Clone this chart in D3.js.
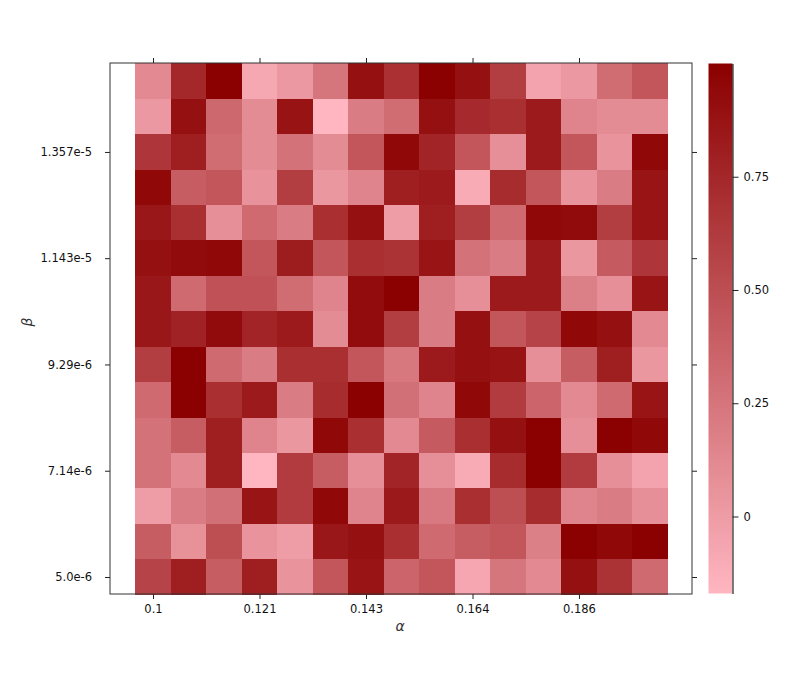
<!DOCTYPE html>
<html>
<head>
<meta charset="utf-8">
<script src="https://cdn.jsdelivr.net/npm/d3@7"></script>
<style>
  html, body { margin: 0; padding: 0; background: #fff; }
  svg { display: block; }
  text { font-family: "DejaVu Sans", sans-serif; }
</style>
</head>
<body>
<svg id="chart" width="800" height="700"></svg>
<script>
// ---- data ----
const alphaValues = [0.1, 0.10714, 0.11429, 0.12143, 0.12857, 0.13571, 0.14286, 0.15,
                     0.15714, 0.16429, 0.17143, 0.17857, 0.18571, 0.19286, 0.2];
const betaValues = [5.0e-6, 5.714e-6, 6.429e-6, 7.143e-6, 7.857e-6, 8.571e-6, 9.286e-6, 1.0e-5,
                    1.0714e-5, 1.1429e-5, 1.2143e-5, 1.2857e-5, 1.3571e-5, 1.4286e-5, 1.5e-5];
const xTickValues = [0.1, 0.12143, 0.14286, 0.16429, 0.18571];
const xTickLabels = ["0.1", "0.121", "0.143", "0.164", "0.186"];
const yTickValues = [5.0e-6, 7.143e-6, 9.286e-6, 1.1429e-5, 1.3571e-5];
const yTickLabels = ["5.0e-6", "7.14e-6", "9.29e-6", "1.143e-5", "1.357e-5"];
const cbTickValues = [0, 0.25, 0.5, 0.75];
const cbTickLabels = ["0", "0.25", "0.50", "0.75"];
// rows listed from the highest beta (top) to the lowest beta (bottom)
const zValues = [
  [0.12, 0.75, 1.0, -0.08, 0.02, 0.25, 0.9, 0.69, 1.0, 0.9, 0.6, -0.05, 0.02, 0.3, 0.45],
  [0.02, 0.9, 0.33, 0.1, 0.88, -0.17, 0.2, 0.3, 0.9, 0.73, 0.7, 0.83, 0.15, 0.1, 0.1],
  [0.65, 0.8, 0.3, 0.1, 0.27, 0.1, 0.45, 0.95, 0.77, 0.45, 0.08, 0.83, 0.45, 0.05, 0.95],
  [0.95, 0.4, 0.45, 0.06, 0.6, 0.03, 0.15, 0.8, 0.83, -0.1, 0.72, 0.45, 0.05, 0.2, 0.87],
  [0.85, 0.7, 0.08, 0.32, 0.2, 0.7, 0.9, 0.0, 0.8, 0.6, 0.32, 0.95, 0.93, 0.6, 0.87],
  [0.9, 0.93, 0.95, 0.45, 0.82, 0.45, 0.7, 0.68, 0.87, 0.27, 0.2, 0.83, 0.03, 0.42, 0.65],
  [0.85, 0.32, 0.47, 0.47, 0.3, 0.15, 0.92, 1.0, 0.2, 0.08, 0.83, 0.83, 0.18, 0.08, 0.87],
  [0.85, 0.78, 0.93, 0.77, 0.83, 0.1, 0.92, 0.6, 0.2, 0.9, 0.45, 0.57, 0.95, 0.9, 0.12],
  [0.6, 1.0, 0.32, 0.2, 0.7, 0.7, 0.45, 0.23, 0.83, 0.9, 0.88, 0.08, 0.4, 0.8, 0.03],
  [0.32, 1.0, 0.7, 0.83, 0.2, 0.72, 1.0, 0.28, 0.15, 0.95, 0.62, 0.35, 0.12, 0.32, 0.87],
  [0.27, 0.4, 0.8, 0.15, 0.03, 0.95, 0.7, 0.12, 0.42, 0.7, 0.9, 1.0, 0.08, 1.0, 0.95],
  [0.27, 0.12, 0.8, -0.17, 0.62, 0.4, 0.08, 0.77, 0.08, -0.1, 0.72, 1.0, 0.62, 0.08, -0.05],
  [0.0, 0.2, 0.28, 0.87, 0.62, 0.95, 0.15, 0.84, 0.22, 0.7, 0.5, 0.72, 0.15, 0.2, 0.08],
  [0.4, 0.07, 0.5, 0.05, 0.0, 0.85, 0.9, 0.7, 0.32, 0.4, 0.45, 0.18, 1.0, 0.95, 1.0],
  [0.57, 0.8, 0.4, 0.8, 0.05, 0.45, 0.87, 0.35, 0.45, -0.07, 0.25, 0.12, 0.9, 0.68, 0.32]
];

// ---- layout ----
const frame = { left: 110, right: 692, top: 63, bottom: 594 };
const svg = d3.select("#chart");

const x = d3.scaleLinear().domain([alphaValues[0], alphaValues[alphaValues.length - 1]]).range([153, 650]);
const y = d3.scaleLinear().domain([betaValues[0], betaValues[betaValues.length - 1]]).range([577, 81.1]);
const cw = x(alphaValues[1]) - x(alphaValues[0]);
const ch = y(betaValues[0]) - y(betaValues[1]);

const ext = d3.extent(zValues.flat());
const color = d3.scaleLinear().domain(ext).range(["#ffb6c1", "#8b0000"]).interpolate(d3.interpolateRgb);

// cells
const cells = [];
zValues.forEach((row, r) => {
  row.forEach((v, c) => {
    cells.push({ a: alphaValues[c], b: betaValues[betaValues.length - 1 - r], v });
  });
});
svg.append("g").selectAll("rect").data(cells).join("rect")
  .attr("x", d => x(d.a) - cw / 2)
  .attr("y", d => y(d.b) - ch / 2)
  .attr("width", cw + 0.4)
  .attr("height", ch + 0.4)
  .attr("fill", d => color(d.v))
  .attr("shape-rendering", "crispEdges");

// axes
const axB = svg.append("g").attr("transform", `translate(0,${frame.bottom})`)
  .call(d3.axisBottom(x).tickValues(xTickValues).tickFormat((d, i) => xTickLabels[i]).tickSize(5).tickPadding(6));
const axT = svg.append("g").attr("transform", `translate(0,${frame.top})`)
  .call(d3.axisTop(x).tickValues(xTickValues).tickFormat("").tickSize(5));
const axL = svg.append("g").attr("transform", `translate(${frame.left},0)`)
  .call(d3.axisLeft(y).tickValues(yTickValues).tickFormat((d, i) => yTickLabels[i]).tickSize(5).tickPadding(13));
const axR = svg.append("g").attr("transform", `translate(${frame.right},0)`)
  .call(d3.axisRight(y).tickValues(yTickValues).tickFormat("").tickSize(5));
[axB, axT, axL, axR].forEach(g => {
  g.select(".domain").remove();
  g.selectAll("text").attr("font-size", "11.5px").attr("fill", "#111").attr("font-family", "DejaVu Sans, sans-serif");
  g.selectAll("line").attr("stroke", "#222");
});

// frame spines
svg.append("rect")
  .attr("x", frame.left).attr("y", frame.top)
  .attr("width", frame.right - frame.left).attr("height", frame.bottom - frame.top)
  .attr("fill", "none").attr("stroke", "#333").attr("stroke-width", 1);

// axis titles
svg.append("text").attr("x", 400).attr("y", 631).attr("text-anchor", "middle")
  .attr("font-family", "DejaVu Serif, serif").attr("font-style", "italic")
  .attr("font-size", "14px").attr("fill", "#333").text("α");
svg.append("text").attr("transform", "translate(32,322) rotate(-90)").attr("text-anchor", "middle")
  .attr("font-family", "DejaVu Serif, serif").attr("font-style", "italic")
  .attr("font-size", "14px").attr("fill", "#333").text("β");

// colorbar
const cb = { x: 708.5, w: 24, top: 63.5, bottom: 593.5 };
const cy = d3.scaleLinear().domain(ext).range([cb.bottom, cb.top]);
const defs = svg.append("defs");
const grad = defs.append("linearGradient").attr("id", "cbgrad")
  .attr("x1", 0).attr("y1", 1).attr("x2", 0).attr("y2", 0);
grad.selectAll("stop").data(d3.range(0, 1.0001, 0.1)).join("stop")
  .attr("offset", d => d)
  .attr("stop-color", d => color(ext[0] + d * (ext[1] - ext[0])));
svg.append("rect").attr("x", cb.x).attr("y", cb.top)
  .attr("width", cb.w).attr("height", cb.bottom - cb.top)
  .attr("fill", "url(#cbgrad)");
const axC = svg.append("g").attr("transform", `translate(${cb.x + cb.w},0)`)
  .call(d3.axisRight(cy).tickValues(cbTickValues).tickFormat((d, i) => cbTickLabels[i]).tickSize(6).tickSizeOuter(0).tickPadding(5));
axC.select(".domain").attr("stroke", "#000");
axC.selectAll("text").attr("font-size", "11.5px").attr("fill", "#111").attr("font-family", "DejaVu Sans, sans-serif");
axC.selectAll("line").attr("stroke", "#222");
</script>
</body>
</html>
